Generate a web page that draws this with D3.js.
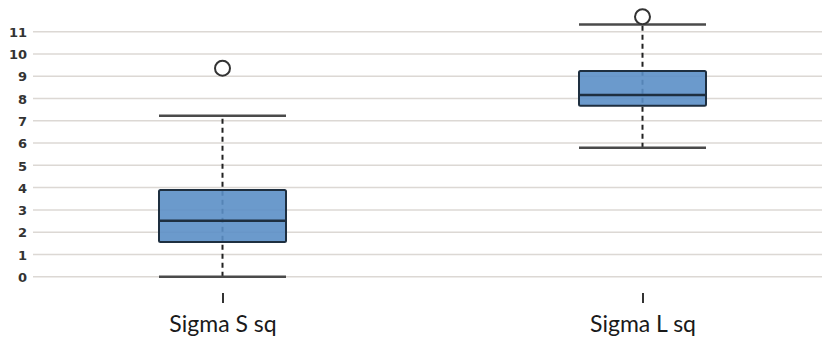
<!DOCTYPE html>
<html><head><meta charset="utf-8">
<script src="https://cdn.jsdelivr.net/npm/d3@7"></script>
<style>body{margin:0;background:#fff}svg{display:block}</style>
</head><body><svg id="c" width="822" height="339"></svg>
<script>
const categories = ["Sigma S sq", "Sigma L sq"];
const lowerWhisker = [0.0, 5.79];
const q1 = [1.56, 7.68];
const median = [2.51, 8.16];
const q3 = [3.89, 9.24];
const upperWhisker = [7.23, 11.32];
const outliers = [[9.36], [11.67]];
const yTicks = [0,1,2,3,4,5,6,7,8,9,10,11];

const svg = d3.select("#c");
const y = d3.scaleLinear().domain([0, 11]).range([276.7, 31.7]);
const x = d3.scalePoint().domain(categories).range([222.5, 642.5]);
const boxW = 127;

// grid
svg.append("g").selectAll("line").data(yTicks).join("line")
  .attr("x1", 33).attr("x2", 822)
  .attr("y1", d => y(d)).attr("y2", d => y(d))
  .attr("stroke", "#dcd8d4").attr("stroke-width", 1.5);

// y axis labels
const yAxis = d3.axisLeft(y).tickValues(yTicks).tickSize(0).tickPadding(0).tickFormat(d3.format("d"));
const ga = svg.append("g").attr("transform", "translate(27,0)").call(yAxis);
ga.select(".domain").remove();
ga.selectAll("text").attr("font-family", "DejaVu Sans").attr("font-weight", "bold")
  .attr("font-size", 13).attr("fill", "#333").attr("dy", "0.36em");

// x axis
const xAxis = d3.axisBottom(x).tickSize(0).tickPadding(0);
const gx = svg.append("g").attr("transform", "translate(0,293)").call(xAxis);
gx.select(".domain").remove();
gx.selectAll(".tick text").remove();
gx.selectAll(".tick").append("line").attr("y1", 0).attr("y2", 10)
  .attr("stroke", "#333").attr("stroke-width", 2);
gx.selectAll(".tick").append("text").text(d => d)
  .attr("y", 39).attr("text-anchor", "middle")
  .attr("font-family", "Lato").attr("font-size", 23).attr("fill", "#1a1a1a");

const data = categories.map((c, i) => ({c, lo: lowerWhisker[i], q1: q1[i], med: median[i], q3: q3[i], hi: upperWhisker[i], out: outliers[i]}));
const g = svg.append("g").selectAll("g").data(data).join("g");

g.append("line")
  .attr("x1", d => x(d.c)).attr("x2", d => x(d.c))
  .attr("y1", d => y(d.lo)).attr("y2", d => y(d.hi))
  .attr("stroke", "#222").attr("stroke-width", 2).attr("stroke-dasharray", "5,4");

g.append("rect")
  .attr("x", d => x(d.c) - boxW/2).attr("width", boxW)
  .attr("y", d => y(d.q3)).attr("height", d => y(d.q1) - y(d.q3))
  .attr("fill", "#5b8fc6").attr("fill-opacity", 0.9)
  .attr("stroke", "#1e2f40").attr("stroke-width", 2).attr("rx", 1.5);

g.append("line")
  .attr("x1", d => x(d.c) - boxW/2).attr("x2", d => x(d.c) + boxW/2)
  .attr("y1", d => y(d.med)).attr("y2", d => y(d.med))
  .attr("stroke", "#1e2f40").attr("stroke-width", 2.5);

["lo", "hi"].forEach(k => {
  g.append("line")
    .attr("x1", d => x(d.c) - boxW/2).attr("x2", d => x(d.c) + boxW/2)
    .attr("y1", d => y(d[k])).attr("y2", d => y(d[k]))
    .attr("stroke", "#4a4a4a").attr("stroke-width", 2.5);
});

g.selectAll("circle").data(d => d.out.map(v => ({c: d.c, v}))).join("circle")
  .attr("cx", d => x(d.c)).attr("cy", d => y(d.v)).attr("r", 7.5)
  .attr("fill", "#fff").attr("stroke", "#333").attr("stroke-width", 2);
</script></body></html>
